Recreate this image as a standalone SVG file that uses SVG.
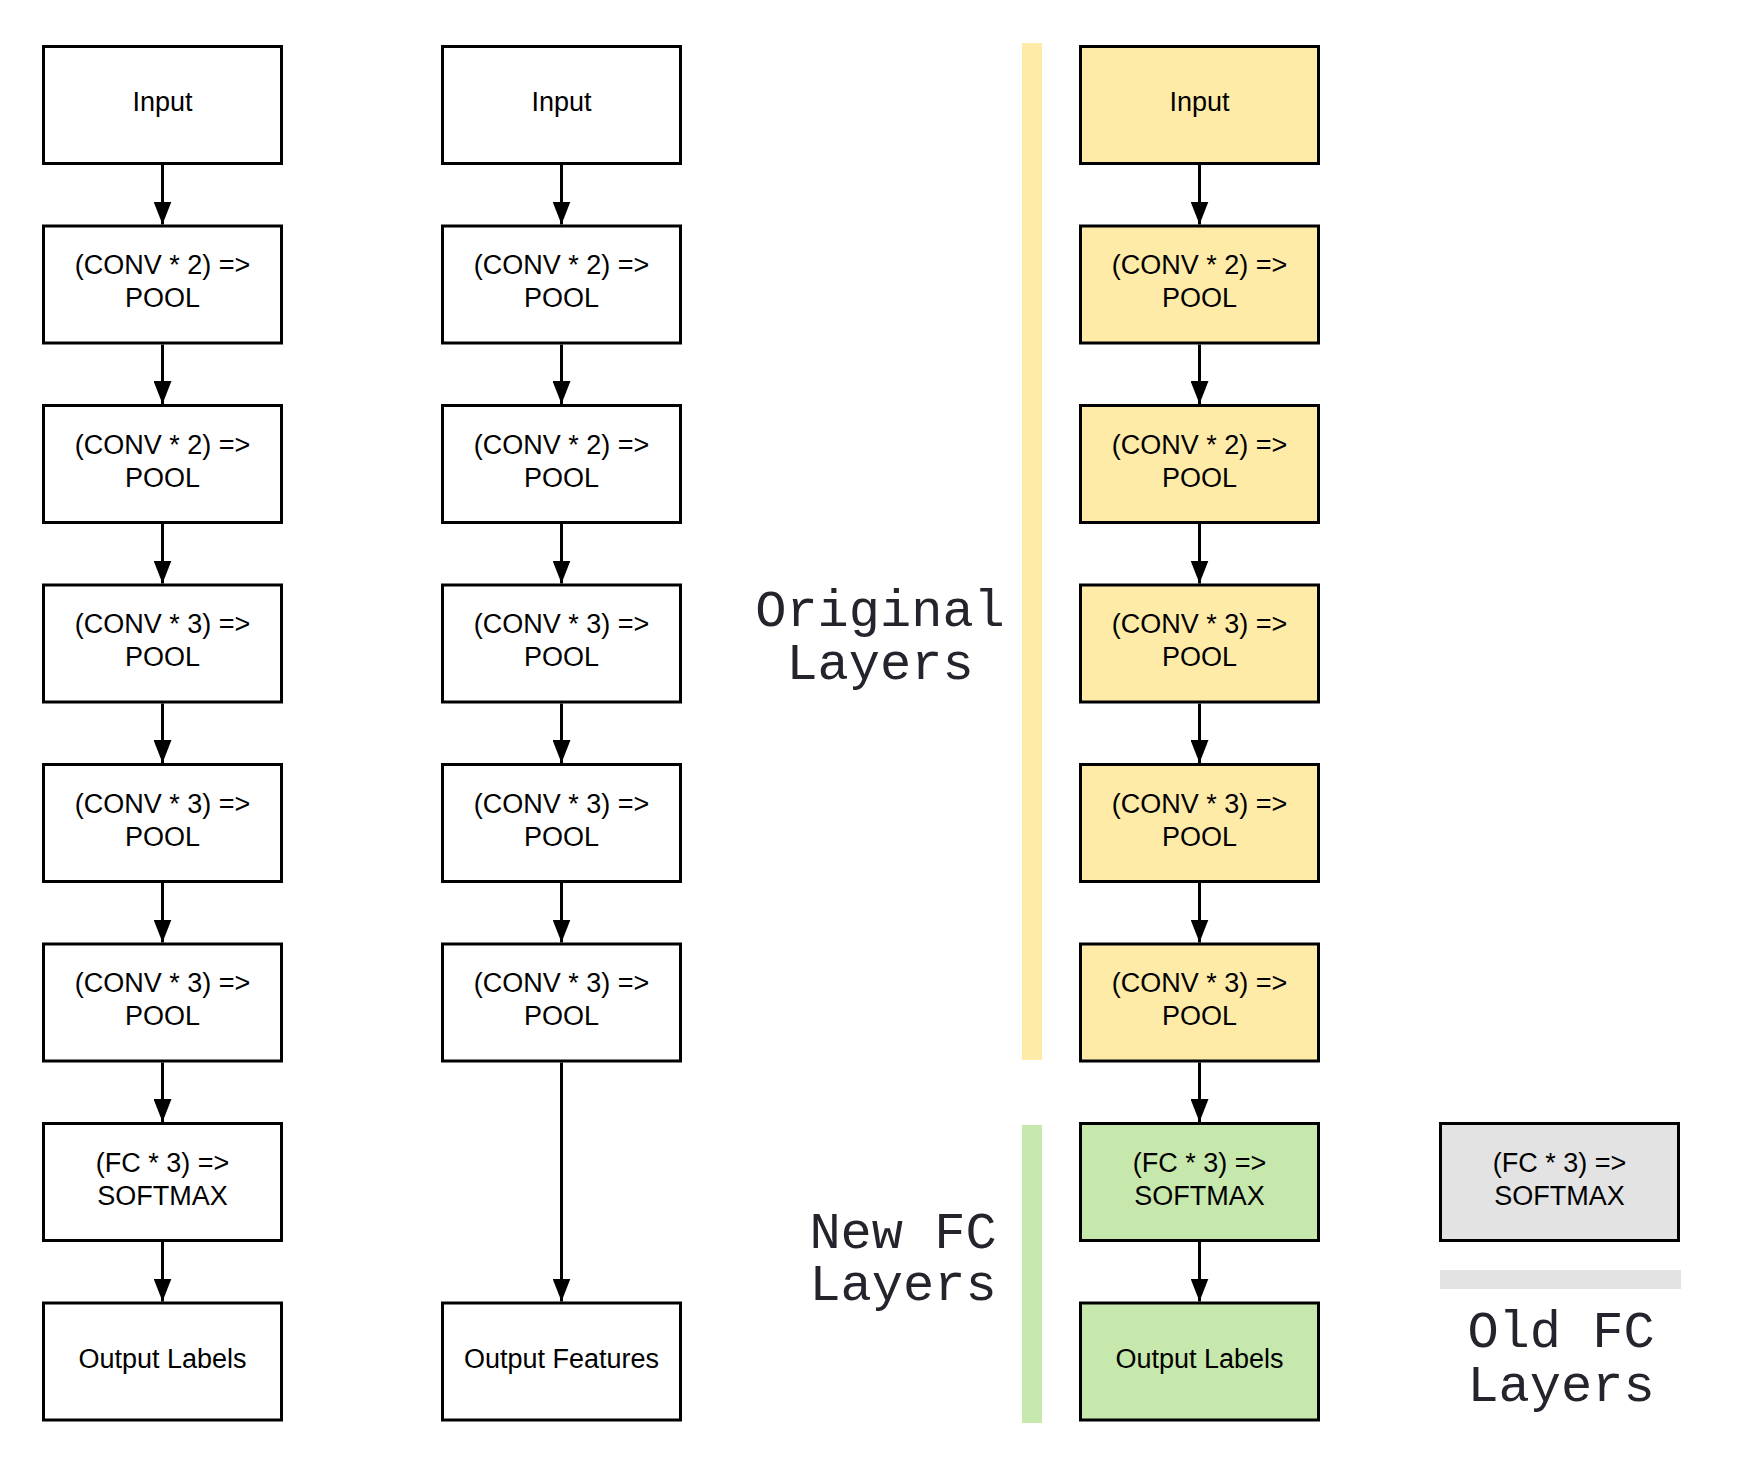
<svg xmlns="http://www.w3.org/2000/svg" width="1764" height="1481" viewBox="0 0 1764 1481">
<style>
.box{stroke:#000;stroke-width:3;fill:#fff}
.y{fill:#FFEBA8}
.g{fill:#C7E8AC}
.gr{fill:#E3E3E3}
.t{font-family:"Liberation Sans",Arial,sans-serif;font-size:27px;fill:#000;text-anchor:middle}
.m{font-family:"Liberation Mono","Courier New",monospace;font-size:52px;fill:#24242c;text-anchor:middle}
.c{stroke:#000;stroke-width:3;fill:none;marker-end:url(#ah)}
</style>
<defs>
<marker id="ah" markerUnits="userSpaceOnUse" markerWidth="23" markerHeight="18" refX="23" refY="9" orient="auto">
<path d="M0,0 L23,9 L0,18 z" fill="#000"/>
</marker>
</defs>
<rect x="1022" y="43" width="20" height="1017" fill="#FFEBA8"/>
<rect x="1022" y="1125" width="20" height="298" fill="#C7E8AC"/>
<rect x="1440" y="1270" width="241" height="19" fill="#E3E3E3"/>
<g id="label-original"><text class="m" x="880" y="626">Original</text><text class="m" x="880" y="679">Layers</text></g>
<g id="label-newfc"><text class="m" x="903" y="1248">New FC</text><text class="m" x="903" y="1300">Layers</text></g>
<g id="label-oldfc"><text class="m" x="1561" y="1347">Old FC</text><text class="m" x="1561" y="1401">Layers</text></g>
<g id="connectors">
<line class="c" x1="162.5" y1="165" x2="162.5" y2="224.5"/>
<line class="c" x1="162.5" y1="344.5" x2="162.5" y2="404"/>
<line class="c" x1="162.5" y1="524" x2="162.5" y2="583.5"/>
<line class="c" x1="162.5" y1="703.5" x2="162.5" y2="763"/>
<line class="c" x1="162.5" y1="883" x2="162.5" y2="942.5"/>
<line class="c" x1="162.5" y1="1062.5" x2="162.5" y2="1122"/>
<line class="c" x1="162.5" y1="1242" x2="162.5" y2="1301.5"/>
<line class="c" x1="561.5" y1="165" x2="561.5" y2="224.5"/>
<line class="c" x1="561.5" y1="344.5" x2="561.5" y2="404"/>
<line class="c" x1="561.5" y1="524" x2="561.5" y2="583.5"/>
<line class="c" x1="561.5" y1="703.5" x2="561.5" y2="763"/>
<line class="c" x1="561.5" y1="883" x2="561.5" y2="942.5"/>
<line class="c" x1="561.5" y1="1062.5" x2="561.5" y2="1301.5"/>
<line class="c" x1="1199.5" y1="165" x2="1199.5" y2="224.5"/>
<line class="c" x1="1199.5" y1="344.5" x2="1199.5" y2="404"/>
<line class="c" x1="1199.5" y1="524" x2="1199.5" y2="583.5"/>
<line class="c" x1="1199.5" y1="703.5" x2="1199.5" y2="763"/>
<line class="c" x1="1199.5" y1="883" x2="1199.5" y2="942.5"/>
<line class="c" x1="1199.5" y1="1062.5" x2="1199.5" y2="1122"/>
<line class="c" x1="1199.5" y1="1242" x2="1199.5" y2="1301.5"/>
</g>
<!-- column 1 -->
<g id="c1-input"><rect class="box" x="43.5" y="46.5" width="238" height="117"/><text class="t" x="162.5" y="111">Input</text></g>
<g id="c1-conv1"><rect class="box" x="43.5" y="226" width="238" height="117"/><text class="t" x="162.5" y="274">(CONV * 2) =&gt;</text><text class="t" x="162.5" y="307">POOL</text></g>
<g id="c1-conv2"><rect class="box" x="43.5" y="405.5" width="238" height="117"/><text class="t" x="162.5" y="453.5">(CONV * 2) =&gt;</text><text class="t" x="162.5" y="486.5">POOL</text></g>
<g id="c1-conv3"><rect class="box" x="43.5" y="585" width="238" height="117"/><text class="t" x="162.5" y="633">(CONV * 3) =&gt;</text><text class="t" x="162.5" y="666">POOL</text></g>
<g id="c1-conv4"><rect class="box" x="43.5" y="764.5" width="238" height="117"/><text class="t" x="162.5" y="812.5">(CONV * 3) =&gt;</text><text class="t" x="162.5" y="845.5">POOL</text></g>
<g id="c1-conv5"><rect class="box" x="43.5" y="944" width="238" height="117"/><text class="t" x="162.5" y="992">(CONV * 3) =&gt;</text><text class="t" x="162.5" y="1025">POOL</text></g>
<g id="c1-fc"><rect class="box" x="43.5" y="1123.5" width="238" height="117"/><text class="t" x="162.5" y="1171.5">(FC * 3) =&gt;</text><text class="t" x="162.5" y="1204.5">SOFTMAX</text></g>
<g id="c1-output"><rect class="box" x="43.5" y="1303" width="238" height="117"/><text class="t" x="162.5" y="1367.5">Output Labels</text></g>
<!-- column 2 -->
<g id="c2-input"><rect class="box" x="442.5" y="46.5" width="238" height="117"/><text class="t" x="561.5" y="111">Input</text></g>
<g id="c2-conv1"><rect class="box" x="442.5" y="226" width="238" height="117"/><text class="t" x="561.5" y="274">(CONV * 2) =&gt;</text><text class="t" x="561.5" y="307">POOL</text></g>
<g id="c2-conv2"><rect class="box" x="442.5" y="405.5" width="238" height="117"/><text class="t" x="561.5" y="453.5">(CONV * 2) =&gt;</text><text class="t" x="561.5" y="486.5">POOL</text></g>
<g id="c2-conv3"><rect class="box" x="442.5" y="585" width="238" height="117"/><text class="t" x="561.5" y="633">(CONV * 3) =&gt;</text><text class="t" x="561.5" y="666">POOL</text></g>
<g id="c2-conv4"><rect class="box" x="442.5" y="764.5" width="238" height="117"/><text class="t" x="561.5" y="812.5">(CONV * 3) =&gt;</text><text class="t" x="561.5" y="845.5">POOL</text></g>
<g id="c2-conv5"><rect class="box" x="442.5" y="944" width="238" height="117"/><text class="t" x="561.5" y="992">(CONV * 3) =&gt;</text><text class="t" x="561.5" y="1025">POOL</text></g>
<g id="c2-output"><rect class="box" x="442.5" y="1303" width="238" height="117"/><text class="t" x="561.5" y="1367.5">Output Features</text></g>
<!-- column 3 -->
<g id="c3-input"><rect class="box y" x="1080.5" y="46.5" width="238" height="117"/><text class="t" x="1199.5" y="111">Input</text></g>
<g id="c3-conv1"><rect class="box y" x="1080.5" y="226" width="238" height="117"/><text class="t" x="1199.5" y="274">(CONV * 2) =&gt;</text><text class="t" x="1199.5" y="307">POOL</text></g>
<g id="c3-conv2"><rect class="box y" x="1080.5" y="405.5" width="238" height="117"/><text class="t" x="1199.5" y="453.5">(CONV * 2) =&gt;</text><text class="t" x="1199.5" y="486.5">POOL</text></g>
<g id="c3-conv3"><rect class="box y" x="1080.5" y="585" width="238" height="117"/><text class="t" x="1199.5" y="633">(CONV * 3) =&gt;</text><text class="t" x="1199.5" y="666">POOL</text></g>
<g id="c3-conv4"><rect class="box y" x="1080.5" y="764.5" width="238" height="117"/><text class="t" x="1199.5" y="812.5">(CONV * 3) =&gt;</text><text class="t" x="1199.5" y="845.5">POOL</text></g>
<g id="c3-conv5"><rect class="box y" x="1080.5" y="944" width="238" height="117"/><text class="t" x="1199.5" y="992">(CONV * 3) =&gt;</text><text class="t" x="1199.5" y="1025">POOL</text></g>
<g id="c3-fc"><rect class="box g" x="1080.5" y="1123.5" width="238" height="117"/><text class="t" x="1199.5" y="1171.5">(FC * 3) =&gt;</text><text class="t" x="1199.5" y="1204.5">SOFTMAX</text></g>
<g id="c3-output"><rect class="box g" x="1080.5" y="1303" width="238" height="117"/><text class="t" x="1199.5" y="1367.5">Output Labels</text></g>
<!-- column 4 -->
<g id="c4-oldfc"><rect class="box gr" x="1440.5" y="1123.5" width="238" height="117"/><text class="t" x="1559.5" y="1171.5">(FC * 3) =&gt;</text><text class="t" x="1559.5" y="1204.5">SOFTMAX</text></g>
</svg>
